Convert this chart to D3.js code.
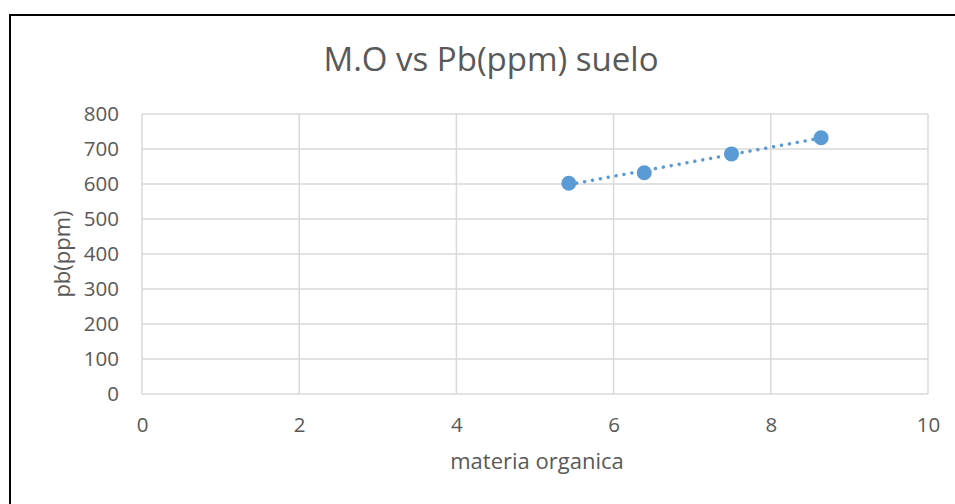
<!DOCTYPE html>
<html>
<head>
  <meta charset="UTF-8">
  <style>
    body { margin: 0; background: #fff; }
    svg { display: block; font-family: "Open Sans", "Liberation Sans", sans-serif; }
  </style>
</head>
<body>
<svg></svg>
<script src="https://d3js.org/d3.v7.min.js"></script>
<script>

let width = 955, height = 504;

// data
let materiaOrganica = [5.43, 6.39, 7.50, 8.64];
let pbPpm = [602, 632, 686, 732];
let xTicks = [0, 2, 4, 6, 8, 10];
let yTicks = [0, 100, 200, 300, 400, 500, 600, 700, 800];

let svg = d3.select("svg")
    .attr("width", width)
    .attr("height", height);

let margin = {left: 142, top: 114, right: 928, bottom: 394};

let x = d3.scaleLinear().domain([0, 10]).range([margin.left, margin.right]);
let y = d3.scaleLinear().domain([0, 800]).range([margin.bottom, margin.top]);

// outer chart frame (runs past the right/bottom edge)
svg.append("rect")
    .attr("x", 10).attr("y", 15)
    .attr("width", 1000).attr("height", 600)
    .attr("fill", "none")
    .attr("stroke", "black")
    .attr("stroke-width", 2);

// title
svg.append("text")
    .attr("x", 491).attr("y", 71)
    .attr("text-anchor", "middle")
    .attr("font-size", "33px")
    .attr("fill", "#595959")
    .text("M.O vs Pb(ppm) suelo");

// gridlines
let grid = svg.append("g");
grid.selectAll(".hg").data(yTicks).enter().append("line")
    .attr("x1", margin.left).attr("x2", margin.right)
    .attr("y1", d => y(d)).attr("y2", d => y(d))
    .attr("stroke", "#d9d9d9").attr("stroke-width", 1.5);
grid.selectAll(".vg").data(xTicks).enter().append("line")
    .attr("y1", margin.top).attr("y2", margin.bottom)
    .attr("x1", d => x(d)).attr("x2", d => x(d))
    .attr("stroke", "#d9d9d9").attr("stroke-width", 1.5);

// tick labels via d3 axes
let yAxis = svg.append("g")
    .attr("transform", "translate(" + (margin.left - 23) + ",0)")
    .call(d3.axisLeft(y).tickValues(yTicks).tickSize(0).tickPadding(0));
let xAxis = svg.append("g")
    .attr("transform", "translate(0," + (margin.bottom + 23) + ")")
    .call(d3.axisBottom(x).tickValues(xTicks).tickSize(0).tickPadding(0));
[xAxis, yAxis].forEach(a => {
    a.select(".domain").remove();
    a.selectAll("text")
        .attr("font-family", "Open Sans, sans-serif")
        .attr("font-size", "20.5px")
        .attr("fill", "#595959");
});

// axis titles
svg.append("text")
    .attr("x", 537).attr("y", 469)
    .attr("text-anchor", "middle")
    .attr("font-size", "22px")
    .attr("fill", "#595959")
    .text("materia organica");

svg.append("text")
    .attr("transform", "translate(70,254) rotate(-90)")
    .attr("text-anchor", "middle")
    .attr("font-size", "22px")
    .attr("fill", "#595959")
    .text("pb(ppm)");

// linear trendline (least squares) across the data range
let pts = materiaOrganica.map((v, i) => ({x: v, y: pbPpm[i]}));
let mx = d3.mean(pts, d => d.x), my = d3.mean(pts, d => d.y);
let slope = d3.sum(pts, d => (d.x - mx) * (d.y - my)) / d3.sum(pts, d => (d.x - mx) * (d.x - mx));
let icpt = my - slope * mx;
let x0 = d3.min(materiaOrganica), x1 = d3.max(materiaOrganica);
svg.append("line")
    .attr("x1", x(x0)).attr("y1", y(icpt + slope * x0))
    .attr("x2", x(x1)).attr("y2", y(icpt + slope * x1))
    .attr("stroke", "#5b9bd5")
    .attr("stroke-width", 3.5)
    .attr("stroke-linecap", "round")
    .attr("stroke-dasharray", "0.01,8");

// points
svg.append("g").selectAll("circle")
    .data(pts)
    .enter()
    .append("circle")
    .attr("cx", d => x(d.x))
    .attr("cy", d => y(d.y))
    .attr("r", 7.5)
    .attr("fill", "#5b9bd5");

</script>
</body>
</html>
